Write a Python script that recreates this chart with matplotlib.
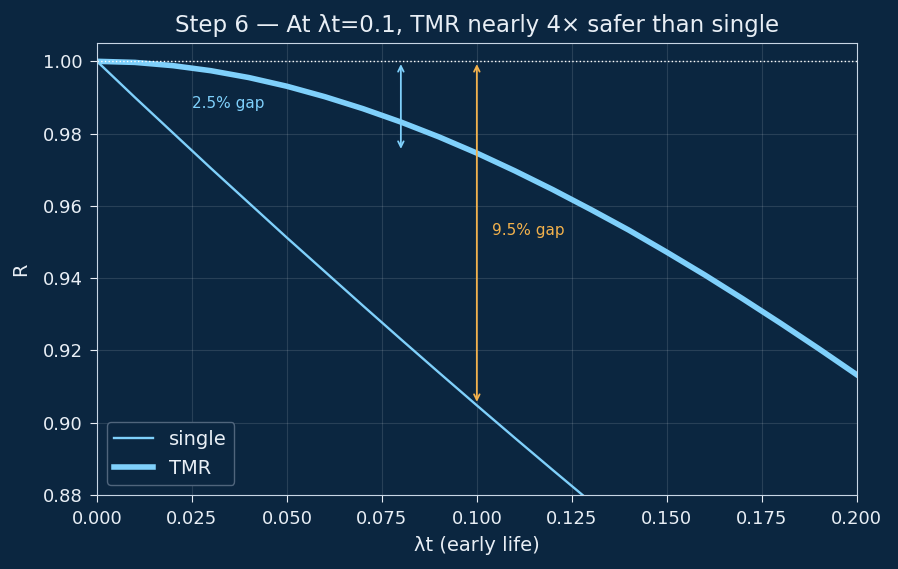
import matplotlib
matplotlib.use("Agg")
import matplotlib.pyplot as plt

# λt values and reliability
lam_t = [0.00, 0.01, 0.02, 0.03, 0.04, 0.05, 0.06, 0.07, 0.08, 0.09, 0.10,
         0.11, 0.12, 0.13, 0.14, 0.15, 0.16, 0.17, 0.18, 0.19, 0.20]
r_single = [1.0000, 0.9900, 0.9802, 0.9704, 0.9608, 0.9512, 0.9418, 0.9324, 0.9231, 0.9139, 0.9048,
            0.8958, 0.8869, 0.8781, 0.8694, 0.8607, 0.8521, 0.8437, 0.8353, 0.8270, 0.8187]
r_tmr = [1.0000, 0.9997, 0.9988, 0.9974, 0.9955, 0.9931, 0.9902, 0.9869, 0.9832, 0.9791, 0.9746,
         0.9697, 0.9645, 0.9590, 0.9533, 0.9472, 0.9409, 0.9343, 0.9275, 0.9205, 0.9133]

bg = "#0b2640"
blue = "#7fd0fb"
orange = "#f2b14c"
fg = "#e8eef5"

fig, ax = plt.subplots(figsize=(8.98, 5.69), dpi=100)
fig.patch.set_facecolor(bg)
ax.set_facecolor(bg)
fig.subplots_adjust(left=0.108, right=0.954, top=0.924, bottom=0.13)

ax.plot(lam_t, r_single, color=blue, linewidth=1.7, label="single")
ax.plot(lam_t, r_tmr, color=blue, linewidth=4, label="TMR")
ax.axhline(1.0, color="white", linestyle=":", linewidth=1)

# gap arrows
ax.annotate("", xy=(0.08, 0.975), xytext=(0.08, 1.0),
            arrowprops=dict(arrowstyle="<->", color=blue, lw=1.3))
ax.text(0.025, 0.987, "2.5% gap", color=blue, fontsize=11)
ax.annotate("", xy=(0.1, 0.905), xytext=(0.1, 1.0),
            arrowprops=dict(arrowstyle="<->", color=orange, lw=1.3))
ax.text(0.104, 0.952, "9.5% gap", color=orange, fontsize=11)

ax.set_xlim(0, 0.2)
ax.set_ylim(0.88, 1.005)
ax.set_title("Step 6 — At λt=0.1, TMR nearly 4× safer than single", color=fg, fontsize=16.5, pad=8)
ax.set_xlabel("λt (early life)", color=fg, fontsize=14, labelpad=6)
ax.set_ylabel("R", color=fg, fontsize=14, labelpad=9)
ax.tick_params(colors=fg, labelsize=13, length=5, pad=5.5)
for s in ax.spines.values():
    s.set_color("#c8d6e5")
ax.grid(True, color="white", alpha=0.12, linewidth=0.8)

leg = ax.legend(loc="lower left", fontsize=14, facecolor=bg, edgecolor="#50657c", framealpha=1)
for t in leg.get_texts():
    t.set_color(fg)

fig.savefig("out.png", facecolor=bg)
